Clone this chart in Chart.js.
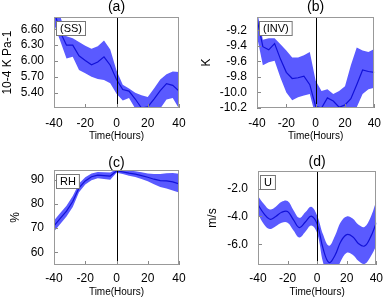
<!DOCTYPE html>
<html>
<head>
<meta charset="utf-8">
<script src="https://cdn.jsdelivr.net/npm/chart.js@4.4.1/dist/chart.umd.min.js"></script>
<style>
body { margin: 0; background: #fff; }
#wrap { position: relative; width: 389px; height: 299px; }
#wrap canvas { position: absolute; }
</style>
</head>
<body>
<div id="wrap">
  <canvas id="ca" width="194" height="150" style="left:0;top:0"></canvas>
  <canvas id="cb" width="194" height="150" style="left:195px;top:0"></canvas>
  <canvas id="cc" width="194" height="149" style="left:0;top:150px"></canvas>
  <canvas id="cd" width="194" height="149" style="left:195px;top:150px"></canvas>
</div>
<script>
// composite hours relative to the event
const hours = [-40, -36, -32, -28, -24, -20, -16, -12, -8, -4, 0, 4, 8, 12, 16, 20, 24, 28, 32, 36, 40];

// (a) static stability
const ssMean  = [6.95, 6.55, 6.30, 6.30, 6.10, 6.01, 5.93, 5.98, 6.08, 5.92, 5.65, 5.46, 5.43, 5.28, 5.11, 5.13, 5.28, 5.44, 5.57, 5.54, 5.43];
const ssUpper = [7.20, 6.85, 6.47, 6.43, 6.36, 6.29, 6.23, 6.28, 6.39, 6.22, 5.82, 5.55, 5.48, 5.40, 5.35, 5.32, 5.48, 5.65, 5.75, 5.80, 5.79];
const ssLower = [6.70, 6.38, 6.05, 6.08, 5.83, 5.77, 5.70, 5.66, 5.64, 5.58, 5.38, 5.25, 5.30, 5.10, 4.95, 4.95, 4.98, 5.10, 5.27, 5.30, 5.10];
const ssTicks = [5.4, 5.7, 6.0, 6.3, 6.6];

// (b) inversion
const invMean  = [-9.05, -9.41, -9.45, -9.37, -9.57, -9.74, -9.82, -9.81, -9.79, -9.90, -10.18, -10.20, -10.07, -10.11, -10.19, -10.16, -10.08, -9.90, -9.71, -9.73, -9.74];
const invUpper = [-8.95, -9.32, -9.30, -9.30, -9.38, -9.46, -9.55, -9.55, -9.52, -9.48, -9.85, -9.98, -9.96, -10.02, -9.98, -9.92, -9.65, -9.42, -9.46, -9.48, -9.44];
const invLower = [-9.28, -9.65, -9.61, -9.59, -9.81, -10.00, -10.10, -10.06, -10.04, -10.02, -10.31, -10.40, -10.40, -10.40, -10.40, -10.40, -10.35, -10.19, -10.02, -9.96, -9.94];
const invTicks = [-10.2, -10.0, -9.8, -9.6, -9.4, -9.2];

// (c) relative humidity
const rhMean  = [70.9, 74.0, 77.0, 81.0, 86.6, 89.5, 91.2, 91.9, 91.7, 91.5, 93.6, 93.2, 92.7, 92.3, 91.7, 91.0, 90.2, 89.6, 89.5, 89.1, 88.3];
const rhUpper = [73.2, 76.3, 79.2, 83.3, 88.4, 91.0, 92.6, 93.2, 93.1, 93.0, 94.3, 94.0, 93.8, 93.5, 93.1, 92.6, 92.3, 92.3, 92.7, 92.8, 92.5];
const rhLower = [68.6, 71.7, 74.8, 78.7, 84.8, 88.0, 89.8, 90.6, 90.3, 90.0, 92.9, 92.4, 91.6, 91.1, 90.3, 89.4, 88.1, 87.0, 86.4, 85.5, 84.7];
const rhTicks = [60, 70, 80, 90];

// (d) zonal wind
const uMean  = [-3.15, -3.80, -4.20, -4.00, -3.70, -3.65, -4.25, -4.80, -4.40, -3.98, -4.55, -6.30, -7.30, -6.80, -5.80, -5.30, -5.45, -5.95, -6.12, -5.50, -4.45];
const uUpper = [-2.55, -3.10, -3.50, -3.30, -2.95, -2.90, -3.55, -4.10, -3.70, -3.30, -3.95, -5.30, -6.10, -5.40, -4.40, -4.00, -4.15, -4.60, -4.75, -4.10, -2.90];
const uLower = [-3.80, -4.55, -4.90, -4.70, -4.45, -4.45, -5.00, -5.50, -5.10, -4.65, -5.20, -7.30, -8.50, -8.20, -7.20, -6.60, -6.75, -7.20, -7.40, -6.90, -6.10];
const uTicks = [-6.0, -4.0, -2.0];

const FONT = 'Liberation Sans, Arial, Helvetica, sans-serif';
const BAND = '#5a5aff';
const LINE = '#1212d8';

const pts = arr => arr.map((v, i) => ({ x: hours[i], y: v }));

// frame, zero line, inward ticks, label box and panel letter
const panelPlugin = {
    id: 'panel',
    afterDatasetsDraw(chart, args, opts) {
        const { ctx, chartArea: a, scales: { x, y } } = chart;
        ctx.save();
        ctx.lineWidth = 1;

        const x0 = Math.round(x.getPixelForValue(0)) + 0.5;
        ctx.strokeStyle = '#000';
        ctx.beginPath();
        ctx.moveTo(x0, a.top);
        ctx.lineTo(x0, a.bottom);
        ctx.stroke();

        ctx.strokeStyle = '#888';
        ctx.beginPath();
        y.ticks.forEach(t => {
            const py = Math.round(y.getPixelForValue(t.value)) + 0.5;
            ctx.moveTo(a.left, py);
            ctx.lineTo(a.left + 4, py);
        });
        x.ticks.forEach(t => {
            const px = Math.round(x.getPixelForValue(t.value)) + 0.5;
            ctx.moveTo(px, a.bottom);
            ctx.lineTo(px, a.bottom - 4);
        });
        ctx.stroke();

        ctx.strokeStyle = '#999';
        ctx.strokeRect(Math.round(a.left) + 0.5, Math.round(a.top) + 0.5,
            Math.round(a.width) - 1, Math.round(a.height) - 1);

        // label box
        ctx.font = '11px ' + FONT;
        const tw = ctx.measureText(opts.tag).width;
        const bx = Math.round(a.left) + 2.5, by = Math.round(a.top) + 4.5;
        ctx.fillStyle = '#fff';
        ctx.fillRect(bx, by, tw + 7, 14);
        ctx.strokeStyle = '#777';
        ctx.strokeRect(bx, by, tw + 7, 14);
        ctx.fillStyle = '#000';
        ctx.textBaseline = 'middle';
        ctx.textAlign = 'left';
        ctx.fillText(opts.tag, bx + 3.5, by + 7.5);

        // panel letter
        ctx.font = '14px ' + FONT;
        ctx.textAlign = 'center';
        ctx.fillText(opts.title, (a.left + a.right) / 2, opts.titleY);
        ctx.restore();
    }
};

function makePanel(id, p) {
    new Chart(document.getElementById(id), {
        type: 'line',
        data: {
            datasets: [
                // first dataset is drawn on top
                { data: pts(p.mean), borderColor: LINE, borderWidth: 1.2, fill: false, tension: p.tension },
                { data: pts(p.upper), borderWidth: 0, backgroundColor: BAND, fill: '+1', tension: p.tension },
                { data: pts(p.lower), borderWidth: 0, fill: false, tension: p.tension }
            ]
        },
        options: {
            responsive: false,
            animation: false,
            events: [],
            layout: { padding: { left: 0, right: p.padRight, top: p.padTop, bottom: 0 } },
            elements: { point: { radius: 0 } },
            plugins: {
                legend: { display: false },
                tooltip: { enabled: false },
                panel: { title: p.title, tag: p.tag, titleY: p.titleY }
            },
            scales: {
                x: {
                    type: 'linear',
                    min: -40,
                    max: 40,
                    ticks: { stepSize: 20, padding: p.xTickPad, color: '#000', font: { size: 12, family: FONT } },
                    grid: { display: false, drawTicks: false },
                    border: { display: false },
                    title: { display: true, text: 'Time(Hours)', color: '#000', font: { size: 10, family: FONT }, padding: { top: 0, bottom: p.xTitlePad } },
                    afterFit: s => { s.height = p.xHeight; }
                },
                y: {
                    min: p.yMin,
                    max: p.yMax,
                    afterBuildTicks: s => { s.ticks = p.ticks.map(v => ({ value: v })); },
                    ticks: { autoSkip: false, padding: 10, color: '#000', font: { size: 12, family: FONT },
                        callback: v => v.toFixed(p.digits) },
                    grid: { display: false, drawTicks: false },
                    border: { display: false },
                    title: { display: true, text: p.yTitle, color: '#000', font: { size: 12, family: FONT }, padding: { top: p.yTitlePad, bottom: 0 } },
                    afterFit: s => { s.width = p.yWidth; }
                }
            }
        },
        plugins: [panelPlugin]
    });
}

makePanel('ca', {
    mean: ssMean, upper: ssUpper, lower: ssLower, ticks: ssTicks, digits: 2,
    yMin: 5.11, yMax: 6.83, yTitle: '10-4 K Pa-1', title: '(a)', tag: '(SS)', tension: 0,
    yWidth: 54, padRight: 15, padTop: 14, xHeight: 42, xTickPad: 8, xTitlePad: 8, yTitlePad: 0, titleY: 7
});
makePanel('cb', {
    mean: invMean, upper: invUpper, lower: invLower, ticks: invTicks, digits: 1,
    yMin: -10.2, yMax: -9.03, yTitle: 'K', title: '(b)', tag: '(INV)', tension: 0,
    yWidth: 62, padRight: 7, padTop: 14, xHeight: 42, xTickPad: 8, xTitlePad: 8, yTitlePad: 4, titleY: 7
});
makePanel('cc', {
    mean: rhMean, upper: rhUpper, lower: rhLower, ticks: rhTicks, digits: 0,
    yMin: 54.8, yMax: 94, yTitle: '%', title: '(c)', tag: 'RH', tension: 0,
    yWidth: 54, padRight: 15, padTop: 20, xHeight: 34, xTickPad: 6, xTitlePad: 1, yTitlePad: 8, titleY: 13
});
makePanel('cd', {
    mean: uMean, upper: uUpper, lower: uLower, ticks: uTicks, digits: 1,
    yMin: -7.48, yMax: -0.74, yTitle: 'm/s', title: '(d)', tag: 'U', tension: 0.4,
    yWidth: 63, padRight: 7, padTop: 21, xHeight: 34, xTickPad: 6, xTitlePad: 1, yTitlePad: 10, titleY: 12
});
</script>
</body>
</html>
